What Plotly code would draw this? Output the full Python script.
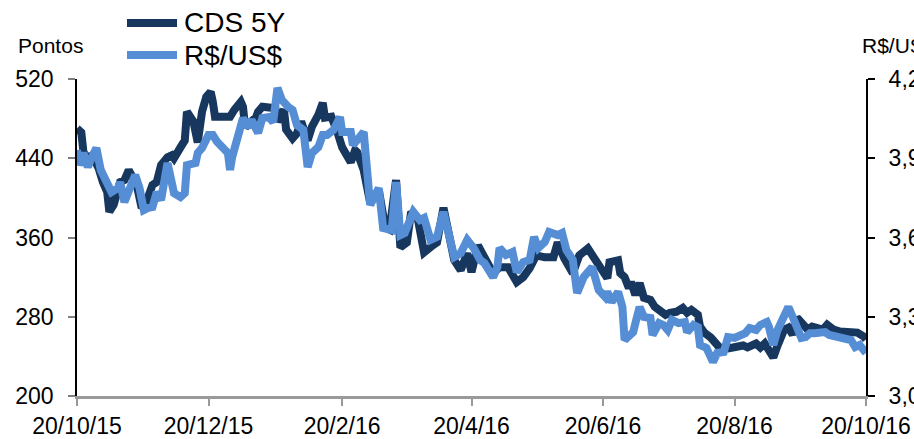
import pandas as pd
import plotly.graph_objects as go

start_date = "2015-10-20"

# CDS 5Y (pontos) - days since 20/10/15
cds_days = [0, 2, 3, 5, 7, 10, 12, 14, 15, 17,
            19, 20, 22, 24, 26, 28, 30, 32, 35, 37,
            39, 42, 44, 45, 48, 50, 51, 54, 56, 58,
            60, 62, 63, 64, 66, 71, 73, 76, 77, 78,
            79, 83, 84, 86, 90, 92, 93, 96, 97, 100,
            102, 104, 107, 109, 112, 114, 115, 118, 121, 123,
            127, 129, 130, 133, 136, 140, 143, 145, 148, 150,
            153, 155, 158, 161, 165, 167, 170, 172, 175, 178,
            181, 183, 186, 188, 193, 196, 200, 204, 207, 210,
            213, 217, 221, 223, 226, 230, 233, 237, 239, 243,
            246, 247, 251, 252, 254, 256, 257, 259, 261, 263,
            266, 268, 270, 273, 275, 278, 281, 283, 285, 288,
            289, 291, 294, 296, 298, 302, 305, 309, 311, 315,
            317, 319, 321, 323, 325, 328, 330, 332, 334, 337,
            339, 341, 344, 346, 348, 351, 354, 357, 360, 362,
            365, 366]
cds_values = [470, 466, 446, 440, 443, 430, 416, 406, 386, 393,
              408, 416, 418, 428, 420, 410, 390, 395, 413, 416,
              433, 441, 443, 440, 451, 458, 487, 477, 456, 487,
              502, 507, 497, 482, 482, 482, 489, 497, 492, 471,
              474, 481, 487, 492, 491, 491, 477, 489, 469, 460,
              465, 477, 458, 472, 484, 496, 481, 482, 465, 451,
              436, 448, 446, 428, 395, 408, 370, 368, 418, 350,
              355, 386, 380, 345, 352, 355, 390, 371, 337, 327,
              344, 325, 352, 344, 324, 330, 330, 315, 320, 329,
              342, 340, 340, 355, 339, 324, 342, 349, 342, 327,
              319, 335, 337, 324, 320, 309, 315, 302, 314, 299,
              297, 290, 287, 282, 284, 285, 289, 284, 287, 282,
              270, 264, 259, 253, 249, 248, 249, 251, 249, 253,
              249, 253, 246, 239, 251, 267, 269, 262, 279, 270,
              267, 270, 269, 267, 272, 267, 265, 264, 264, 264,
              260, 257]

# R$/US$ - days since 20/10/15
brl_days = [0, 1, 3, 5, 7, 9, 11, 14, 16, 19,
            20, 22, 25, 27, 29, 31, 33, 35, 37, 39,
            41, 42, 45, 48, 50, 51, 55, 56, 58, 61,
            63, 65, 70, 71, 72, 74, 77, 79, 81, 84,
            86, 89, 91, 93, 95, 98, 100, 102, 105, 107,
            109, 112, 114, 116, 119, 122, 123, 127, 128, 130,
            133, 136, 137, 140, 142, 146, 148, 150, 152, 156,
            159, 161, 164, 167, 170, 173, 175, 178, 181, 184,
            187, 189, 193, 195, 196, 199, 202, 204, 207, 210,
            212, 214, 217, 219, 223, 225, 227, 230, 232, 235,
            239, 242, 245, 246, 248, 251, 253, 254, 256, 258,
            260, 261, 263, 266, 267, 270, 272, 274, 276, 279,
            282, 283, 286, 288, 289, 292, 295, 297, 300, 302,
            305, 308, 310, 312, 315, 317, 320, 321, 323, 325,
            327, 328, 330, 332, 334, 336, 338, 340, 342, 345,
            347, 349, 353, 355, 359, 361, 363, 366]
brl_values = [3.931, 3.874, 3.920, 3.867, 3.905, 3.939, 3.856, 3.810, 3.772, 3.787,
              3.810, 3.734, 3.810, 3.837, 3.787, 3.704, 3.712, 3.715, 3.772, 3.742,
              3.837, 3.882, 3.768, 3.753, 3.768, 3.874, 3.882, 3.920, 3.939, 3.988,
              3.988, 3.962, 3.920, 3.856, 3.905, 3.969, 4.052, 4.018, 4.045, 3.996,
              4.052, 4.056, 4.037, 4.166, 4.121, 4.094, 4.083, 4.026, 4.007, 3.867,
              3.920, 3.943, 3.988, 3.988, 4.007, 4.056, 3.999, 3.999, 3.950, 3.969,
              3.999, 3.723, 3.742, 3.787, 3.636, 3.628, 3.810, 3.609, 3.617, 3.697,
              3.666, 3.674, 3.591, 3.602, 3.697, 3.602, 3.526, 3.541, 3.591, 3.560,
              3.515, 3.503, 3.450, 3.488, 3.560, 3.534, 3.545, 3.469, 3.507, 3.515,
              3.602, 3.560, 3.583, 3.621, 3.609, 3.617, 3.553, 3.515, 3.390, 3.450,
              3.488, 3.401, 3.375, 3.394, 3.356, 3.394, 3.337, 3.212, 3.231, 3.242,
              3.307, 3.337, 3.299, 3.295, 3.231, 3.276, 3.269, 3.250, 3.288, 3.276,
              3.280, 3.242, 3.269, 3.261, 3.193, 3.182, 3.129, 3.163, 3.167, 3.223,
              3.220, 3.231, 3.238, 3.257, 3.250, 3.269, 3.280, 3.261, 3.193, 3.250,
              3.288, 3.314, 3.337, 3.299, 3.257, 3.220, 3.223, 3.238, 3.238, 3.238,
              3.242, 3.231, 3.223, 3.220, 3.212, 3.185, 3.193, 3.163]

x_tick_dates = ["2015-10-20", "2015-12-20", "2016-02-20", "2016-04-20",
                "2016-06-20", "2016-08-20", "2016-10-20"]
x_tick_labels = ["20/10/15", "20/12/15", "20/2/16", "20/4/16",
                 "20/6/16", "20/8/16", "20/10/16"]
left_ticks = [200, 280, 360, 440, 520]
right_ticks = [3.0, 3.3, 3.6, 3.9, 4.2]
right_tick_labels = ["3,0", "3,3", "3,6", "3,9", "4,2"]
series_names = ["CDS 5Y", "R$/US$"]

DARK = "#17375E"
LIGHT = "#558ED5"
FONT = "Liberation Sans, Arial, sans-serif"

t0 = pd.Timestamp(start_date)
cds_dates = [t0 + pd.Timedelta(days=d) for d in cds_days]
brl_dates = [t0 + pd.Timedelta(days=d) for d in brl_days]

fig = go.Figure()
fig.add_trace(go.Scatter(x=cds_dates, y=cds_values, mode="lines", name=series_names[0],
                         line=dict(color=DARK, width=8), yaxis="y"))
fig.add_trace(go.Scatter(x=brl_dates, y=brl_values, mode="lines", name=series_names[1],
                         line=dict(color=LIGHT, width=8), yaxis="y2"))

fig.update_layout(
    width=914, height=439,
    margin=dict(l=77, r=48, t=79, b=43, autoexpand=False),
    paper_bgcolor="white", plot_bgcolor="white",
    showlegend=False,
    font=dict(family=FONT, size=23, color="black"),
    xaxis=dict(
        type="date", automargin=False,
        range=[x_tick_dates[0], x_tick_dates[-1]],
        tickvals=x_tick_dates, ticktext=x_tick_labels,
        showgrid=False, zeroline=False,
        showline=True, linecolor="#9A9A9A", linewidth=3,
        ticks="outside", ticklen=7, tickcolor="#9A9A9A", tickwidth=1.5,
        tickfont=dict(size=23), ticklabelstandoff=0,
    ),
    yaxis=dict(
        automargin=False,
        range=[200, 520], tickvals=left_ticks,
        showgrid=False, zeroline=False,
        showline=True, linecolor="black", linewidth=1.5,
        ticks="outside", ticklen=7, tickcolor="#808080", tickwidth=1.5,
        tickfont=dict(size=23), ticklabelstandoff=10,
    ),
    yaxis2=dict(
        automargin=False,
        range=[3.0, 4.2], tickvals=right_ticks, ticktext=right_tick_labels,
        overlaying="y", side="right",
        showgrid=False, zeroline=False,
        showline=True, linecolor="black", linewidth=2,
        ticks="outside", ticklen=7, tickcolor="black", tickwidth=1.5,
        tickfont=dict(size=23), ticklabelstandoff=9,
    ),
)

# axis titles
fig.add_annotation(text="Pontos", xref="paper", yref="paper",
                   x=(16 - 77) / 789, y=(396 - 45) / 317,
                   xanchor="left", yanchor="middle", showarrow=False,
                   font=dict(size=21))
fig.add_annotation(text="R$/US$", xref="paper", yref="paper",
                   x=(860 - 77) / 789, y=(396 - 45) / 317,
                   xanchor="left", yanchor="middle", showarrow=False,
                   font=dict(size=21))

# legend (manual, long line samples)
for name, col, py in [(series_names[0], DARK, 23), (series_names[1], LIGHT, 55)]:
    yp = (396 - py) / 317
    fig.add_shape(type="line", xref="paper", yref="paper",
                  x0=(127 - 77) / 789, x1=(177 - 77) / 789, y0=yp, y1=yp,
                  line=dict(color=col, width=8))
    fig.add_annotation(text=name, xref="paper", yref="paper",
                       x=(182 - 77) / 789, y=yp, xanchor="left", yanchor="middle",
                       showarrow=False, font=dict(size=28))

# remove default page margin so the figure fills the window exactly
fig.write_html("out.html",
               config={"displayModeBar": False},
               post_script="document.body.style.margin='0';document.body.style.overflow='hidden';")
